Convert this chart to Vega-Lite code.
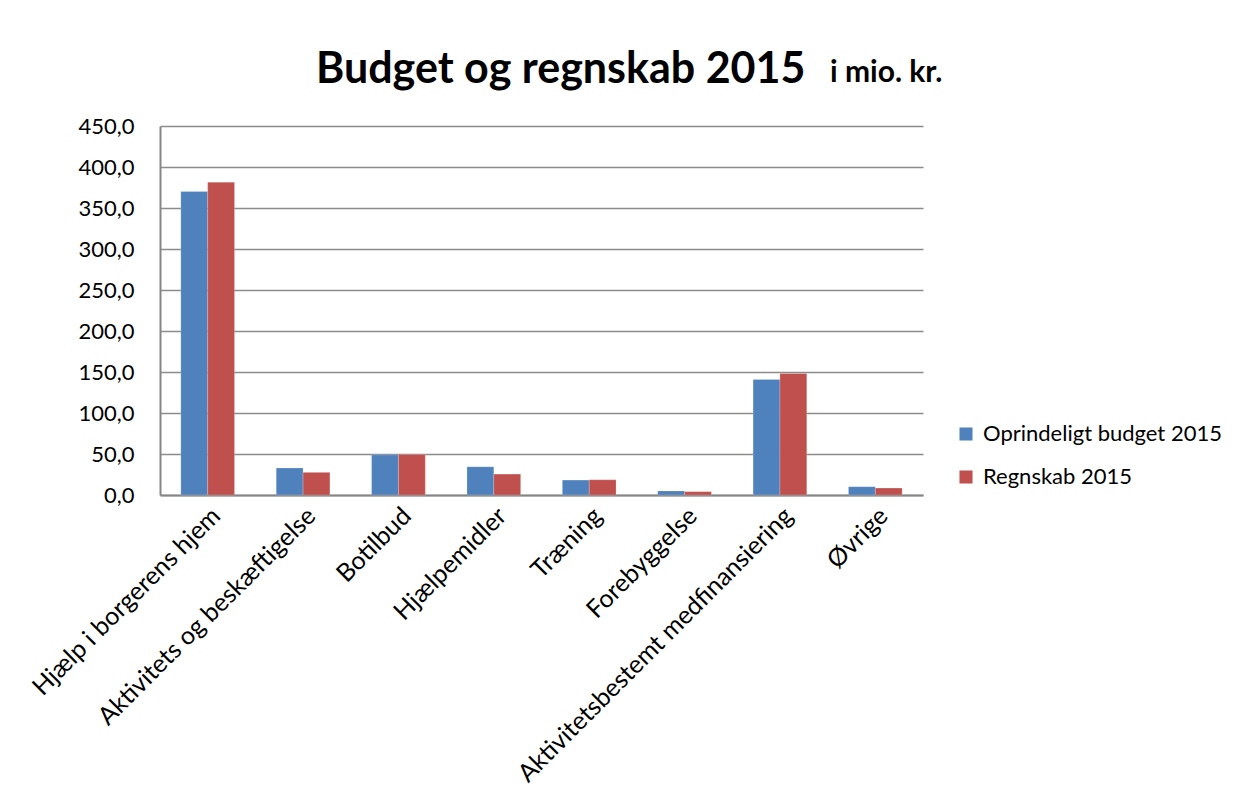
{
  "$schema": "https://vega.github.io/schema/vega-lite/v6.json",
  "background": "white",
  "padding": {"left": 28, "top": 49, "right": 5, "bottom": 5},
  "title": {"text": "Budget og regnskab 2015", "anchor": "start", "dx": 288, "dy": 38, "fontSize": 43, "font": "Lato", "fontWeight": "bold", "color": "black"},
  "config": {"font": "Lato", "view": {"stroke": null}},
  "hconcat": [
    {
      "width": 763,
      "height": 369,
      "title": {"text": "i mio. kr.", "anchor": "start", "dx": 802, "dy": -23, "fontSize": 30, "font": "Lato", "fontWeight": "bold", "color": "black"},
      "data": {"values": [
        {"kategori": "Hjælp i borgerens hjem", "serie": "Oprindeligt budget 2015", "værdi": 370.2},
        {"kategori": "Hjælp i borgerens hjem", "serie": "Regnskab 2015", "værdi": 381.5},
        {"kategori": "Aktivitets og beskæftigelse", "serie": "Oprindeligt budget 2015", "værdi": 32.9},
        {"kategori": "Aktivitets og beskæftigelse", "serie": "Regnskab 2015", "værdi": 27.6},
        {"kategori": "Botilbud", "serie": "Oprindeligt budget 2015", "værdi": 49.0},
        {"kategori": "Botilbud", "serie": "Regnskab 2015", "værdi": 49.3},
        {"kategori": "Hjælpemidler", "serie": "Oprindeligt budget 2015", "værdi": 34.4},
        {"kategori": "Hjælpemidler", "serie": "Regnskab 2015", "værdi": 25.5},
        {"kategori": "Træning", "serie": "Oprindeligt budget 2015", "værdi": 18.2},
        {"kategori": "Træning", "serie": "Regnskab 2015", "værdi": 18.6},
        {"kategori": "Forebyggelse", "serie": "Oprindeligt budget 2015", "værdi": 4.9},
        {"kategori": "Forebyggelse", "serie": "Regnskab 2015", "værdi": 4.1},
        {"kategori": "Aktivitetsbestemt medfinansiering", "serie": "Oprindeligt budget 2015", "værdi": 141.0},
        {"kategori": "Aktivitetsbestemt medfinansiering", "serie": "Regnskab 2015", "værdi": 148.2},
        {"kategori": "Øvrige", "serie": "Oprindeligt budget 2015", "værdi": 10.1},
        {"kategori": "Øvrige", "serie": "Regnskab 2015", "værdi": 8.5}
      ]},
      "mark": {"type": "bar", "stroke": "white", "strokeWidth": 0.5, "strokeOpacity": 0.4},
      "encoding": {
        "x": {
          "field": "kategori", "type": "nominal", "sort": null,
          "scale": {"paddingInner": 0.437, "paddingOuter": 0.2185},
          "axis": {"title": null, "labelAngle": -45, "labelFontSize": 25, "labelColor": "black", "labelFont": "Lato", "ticks": false, "domainColor": "#868686", "domainWidth": 2, "labelPadding": 8, "labelLimit": 500}
        },
        "xOffset": {"field": "serie", "type": "nominal", "sort": ["Oprindeligt budget 2015", "Regnskab 2015"], "scale": {"paddingInner": 0}},
        "y": {
          "field": "værdi", "type": "quantitative",
          "scale": {"domain": [0, 450], "nice": false},
          "axis": {"title": null, "values": [0, 50, 100, 150, 200, 250, 300, 350, 400, 450], "labelOverlap": false, "labelExpr": "replace(format(datum.value, '.1f'), '.', ',')", "labelFontSize": 22, "labelColor": "black", "labelFont": "Lato", "gridColor": "#8c8c8c", "gridWidth": 1.5, "domainColor": "#868686", "domainWidth": 2, "ticks": false, "labelPadding": 26}
        },
        "color": {
          "field": "serie", "type": "nominal", "sort": ["Oprindeligt budget 2015", "Regnskab 2015"],
          "scale": {"domain": ["Oprindeligt budget 2015", "Regnskab 2015"], "range": ["#4F81BD", "#C0504D"]},
          "legend": {"title": null, "orient": "none", "legendX": 795, "legendY": 297, "symbolType": "square", "symbolSize": 170, "symbolStrokeWidth": 0, "labelFontSize": 22, "labelColor": "black", "labelFont": "Lato", "labelLimit": 400, "rowPadding": 21, "labelOffset": 6}
        }
      }
    }
  ]
}
